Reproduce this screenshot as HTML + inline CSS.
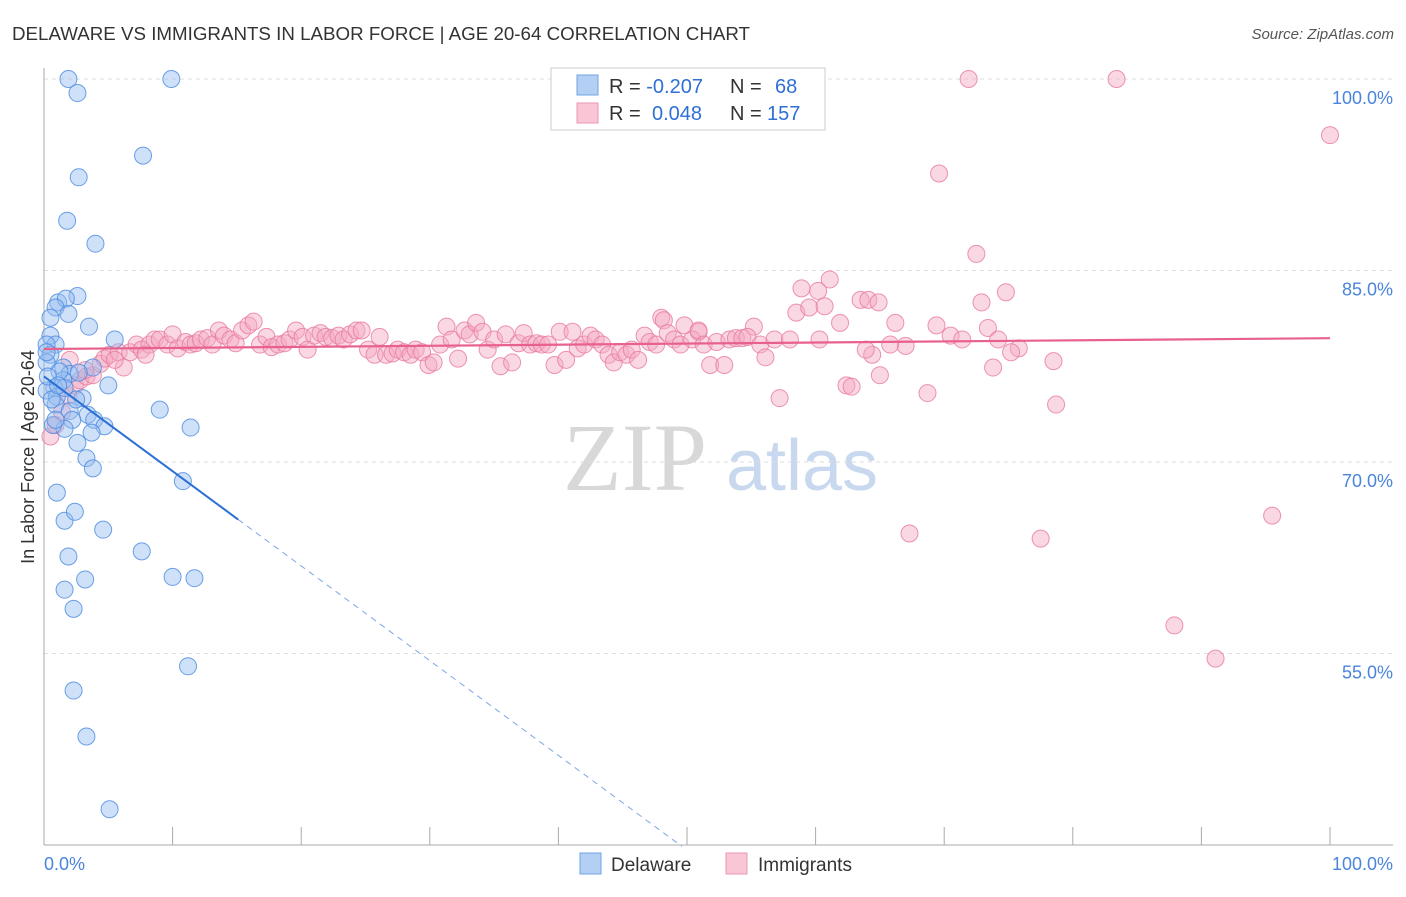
<!DOCTYPE html>
<html><head><meta charset="utf-8">
<style>
body{margin:0;background:#fff;font-family:"Liberation Sans",sans-serif;}
svg text{font-family:"Liberation Sans",sans-serif;}
</style></head>
<body>
<svg id="chart" width="1406" height="892" viewBox="0 0 1406 892" xmlns="http://www.w3.org/2000/svg">
<text x="12" y="40" font-size="18" fill="#333" textLength="738" lengthAdjust="spacingAndGlyphs">DELAWARE VS IMMIGRANTS IN LABOR FORCE | AGE 20-64 CORRELATION CHART</text>
<text x="1394" y="39" font-size="15" fill="#555" font-style="italic" text-anchor="end">Source: ZipAtlas.com</text>
<g>
<text x="635" y="490" font-size="96" fill="#d8d8d8" text-anchor="middle" font-family="Liberation Serif" style="font-family:'Liberation Serif',serif">ZIP</text>
<text x="802" y="490" font-size="72" fill="#c8d8ee" text-anchor="middle">atlas</text>
</g>
<g id="grid"></g>
<g id="axes"></g>
<g id="pts"></g>
<g id="trend"></g>
<text transform="translate(34,457) rotate(-90)" font-size="18" fill="#333" text-anchor="middle">In Labor Force | Age 20-64</text>
<g>
<rect x="551" y="68" width="274" height="62" fill="#fff" stroke="#ccc"/>
<rect x="577" y="75" width="21" height="20" fill="#b3cff3" stroke="#6fa3e6"/>
<rect x="577" y="103" width="21" height="20" fill="#f8c6d4" stroke="#ec97b2"/>
<text x="609" y="93" font-size="20" fill="#333">R = <tspan fill="#2f6fd6">-0.207</tspan><tspan x="730">N = </tspan><tspan fill="#2f6fd6" x="775">68</tspan></text>
<text x="609" y="120" font-size="20" fill="#333">R = <tspan fill="#2f6fd6" x="652">0.048</tspan><tspan x="730">N = </tspan><tspan fill="#2f6fd6" x="767">157</tspan></text>
</g>
<g>
<rect x="580" y="853" width="21" height="21" fill="#b3cff3" stroke="#6fa3e6"/>
<text x="611" y="871" font-size="19" fill="#333">Delaware</text>
<rect x="726" y="853" width="21" height="21" fill="#f8c6d4" stroke="#ec97b2"/>
<text x="758" y="871" font-size="19" fill="#333">Immigrants</text>
</g>
</svg>
<script>
const yTicks=[100,85,70,55];
const yTickLabels=["100.0%","85.0%","70.0%","55.0%"];
const xTickLabels=["0.0%","100.0%"];
const blueX=[1.9,9.9,2.6,7.7,2.7,1.8,4.0,2.6,1.1,1.7,0.9,1.9,3.5,0.5,0.9,5.5,0.2,0.5,0.2,1.5,3.8,2.0,2.7,1.5,5.0,0.8,0.2,3.0,1.0,0.9,2.0,3.4,2.2,3.9,4.7,1.6,0.7,3.7,9.0,11.4,2.6,3.3,3.8,10.8,1.0,1.6,2.4,4.6,7.6,1.9,3.2,10.0,11.7,1.6,2.3,11.2,2.3,3.3,5.1,0.5,0.2,1.2,0.3,0.6,0.9,2.5,1.6,1.1];
const blueY=[100,100,98.9,94.0,92.3,88.9,87.1,83.0,82.5,82.8,82.1,81.6,80.6,79.9,79.2,79.6,79.2,78.4,77.8,77.4,77.4,76.9,77.0,76.4,76.0,75.8,75.6,75.0,75.1,74.5,74.0,73.7,73.3,73.3,72.8,72.6,72.9,72.3,74.1,72.7,71.5,70.3,69.5,68.5,67.6,65.4,66.1,64.7,63.0,62.6,60.8,61.0,60.9,60.0,58.5,54.0,52.1,48.5,42.8,81.3,78.6,77.1,76.7,74.9,73.3,74.9,75.8,76.0];
const pinkX=[71.9,83.4,100,69.6,72.5,61.1,58.9,60.2,74.8,72.9,63.5,64.1,64.9,58.5,59.5,60.7,48.0,48.2,49.8,50.9,55.2,61.9,66.2,69.4,70.5,71.4,73.4,74.2,75.8,75.2,78.5,73.8,65.0,62.4,62.8,64.4,67.0,68.7,57.2,78.7,67.3,77.5,95.5,87.9,91.1,
0.5,0.9,1.4,1.9,2.4,2.8,3.3,3.8,4.4,4.7,5.1,5.8,6.2,6.7,7.2,7.6,8.2,8.6,9.0,9.6,10.0,10.4,11.0,11.4,11.8,12.2,12.7,13.1,13.6,14.0,14.5,14.9,15.4,15.9,16.3,16.8,17.3,17.7,18.2,18.7,19.1,19.6,20.1,20.5,21.0,21.5,21.9,22.4,22.9,23.3,23.8,24.3,24.7,25.2,25.7,26.1,26.6,27.1,27.5,28.0,28.5,28.9,29.4,29.9,30.3,30.8,31.3,31.7,32.2,32.7,33.1,33.6,34.1,34.5,35.0,35.5,35.9,36.4,36.9,37.3,37.8,38.3,38.7,39.2,39.7,40.1,40.6,41.1,41.5,42.0,42.5,42.9,43.4,43.9,44.3,44.8,45.3,45.7,46.2,46.7,47.1,47.6,48.5,49.0,49.5,50.4,50.9,51.3,51.8,52.3,52.9,53.3,53.8,54.3,54.7,55.7,56.1,56.8,58.0,60.3,63.9,65.8,2.0,3.2,5.5,7.9];
const pinkY=[100,100,95.6,92.6,86.3,84.3,83.6,83.4,83.3,82.5,82.7,82.7,82.5,81.7,82.1,82.2,81.3,81.1,80.7,80.2,80.6,80.9,80.9,80.7,79.9,79.6,80.5,79.6,78.9,78.6,77.9,77.4,76.8,76.0,75.9,78.4,79.1,75.4,75.0,74.5,64.4,64.0,65.8,57.2,54.6,
72.0,72.9,73.9,75.2,76.0,76.4,76.7,76.8,77.7,78.1,78.4,78.6,77.4,78.6,79.2,78.8,79.2,79.6,79.6,79.2,80.0,78.9,79.4,79.2,79.3,79.6,79.7,79.2,80.3,79.9,79.6,79.3,80.3,80.7,81.0,79.2,79.8,79.0,79.2,79.3,79.6,80.3,79.8,78.8,79.9,80.1,79.8,79.7,79.9,79.6,80.0,80.3,80.3,78.8,78.4,79.8,78.4,78.5,78.8,78.6,78.4,78.8,78.6,77.6,77.8,79.2,80.6,79.6,78.1,80.3,80.0,80.9,80.2,78.8,79.6,77.5,80.0,77.8,79.3,80.1,79.2,79.3,79.2,79.2,77.6,80.2,78.0,80.2,78.9,79.2,79.9,79.6,79.2,78.4,77.8,78.6,78.4,78.8,78.0,79.9,79.4,79.2,80.1,79.6,79.2,79.6,80.3,79.2,77.6,79.4,77.6,79.6,79.7,79.7,79.8,79.2,78.2,79.6,79.6,79.6,78.8,79.2,78.0,77.2,78.0,78.4];
const blueTrend=[76.7,-0.742];
const pinkTrend=[78.85,0.0085];
const NS="http://www.w3.org/2000/svg";
const L=44,R=1330,T=79,PX=12.767,B=845;
function sx(v){return L+(R-L)*v/100;}
function sy(v){return T+(100-v)*PX;}
function mk(tag,attrs,parent){const e=document.createElementNS(NS,tag);for(const k in attrs)e.setAttribute(k,attrs[k]);parent.appendChild(e);return e;}
const grid=document.getElementById('grid'),axes=document.getElementById('axes'),pts=document.getElementById('pts'),trend=document.getElementById('trend');
yTicks.forEach((t,i)=>{
 const g=mk('line',{x1:L,x2:1393,y1:sy(t),y2:sy(t),stroke:'#ddd','stroke-dasharray':'4,4'},grid);
 
 
 const tx=mk('text',{x:1393,y:sy(t)+25,'font-size':18,fill:'#4a84dc','text-anchor':'end'},axes);
 tx.textContent=yTickLabels[i];
 
 
});
const ya=mk('line',{x1:L,x2:L,y1:68,y2:B,stroke:'#aaa'},axes);


const xa=mk('line',{x1:L,x2:1393,y1:B,y2:B,stroke:'#aaa'},axes);


for(let i=0;i<=10;i++){
 const tk=mk('line',{x1:sx(i*10),x2:sx(i*10),y1:B,y2:B-18,stroke:'#aaa'},axes);
 
 
}
[[0,'start',44],[100,'end',1393]].forEach((d,i)=>{
 const tx=mk('text',{x:d[2],y:870,'font-size':18,fill:'#4a84dc','text-anchor':d[1]},axes);
 tx.textContent=xTickLabels[i];
 
 
});
function dots(xs,ys,fill,stroke,name){
 xs.forEach((x,i)=>{
  const c=mk('circle',{cx:sx(x),cy:sy(ys[i]),r:8.5,fill:fill,'fill-opacity':0.45,stroke:stroke,'stroke-opacity':0.8,'stroke-width':1},pts);
  
  
 });
}
dots(pinkX,pinkY,'#f4a8c0','#e8799d','immigrants-point');
dots(blueX,blueY,'#94bdf0','#4a8ae0','delaware-point');
const bx1=15.1,bx2=49.6;
const bl=mk('line',{x1:sx(0),y1:sy(blueTrend[0]),x2:sx(bx1),y2:sy(blueTrend[0]+blueTrend[1]*bx1),stroke:'#2a6fd6','stroke-width':2},trend);


const bd=mk('line',{x1:sx(bx1),y1:sy(blueTrend[0]+blueTrend[1]*bx1),x2:sx(bx2),y2:sy(blueTrend[0]+blueTrend[1]*bx2),stroke:'#7aa6e6','stroke-width':1,'stroke-dasharray':'6,5'},trend);


const pl=mk('line',{x1:sx(0),y1:sy(pinkTrend[0]),x2:sx(100),y2:sy(pinkTrend[0]+pinkTrend[1]*100),stroke:'#e8608c','stroke-width':2.2},trend);


</script>
</body></html>
